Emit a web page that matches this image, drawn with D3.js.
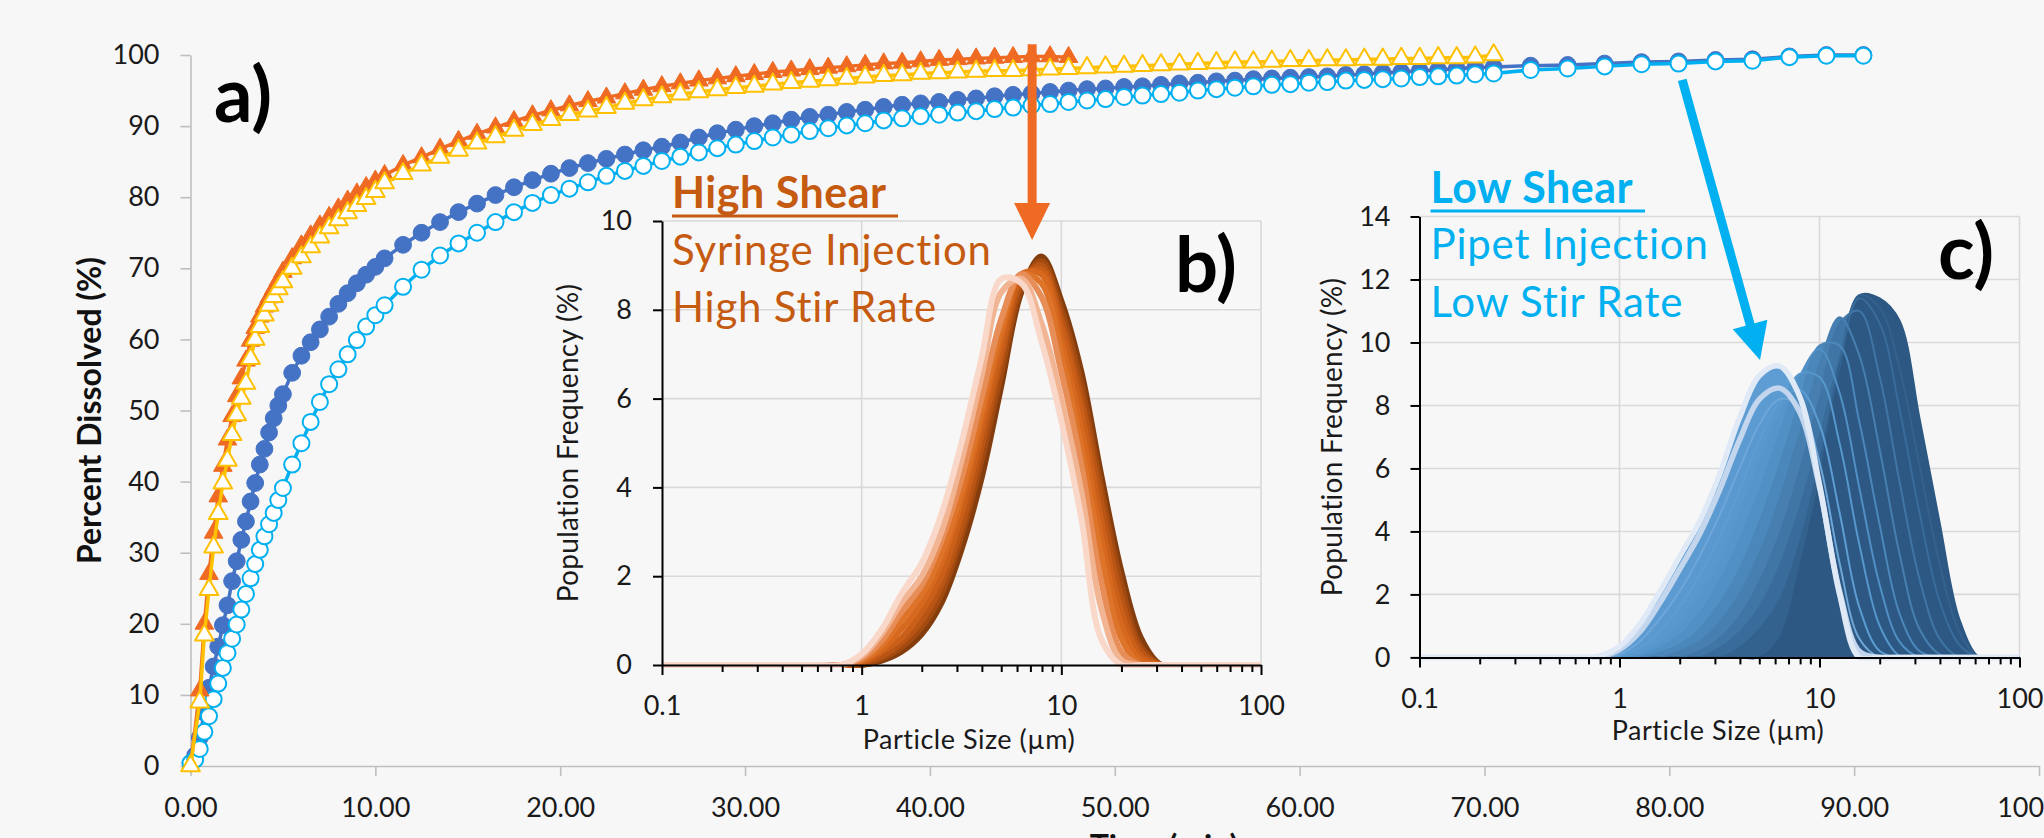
<!DOCTYPE html>
<html>
<head>
<meta charset="utf-8">
<script src="https://cdn.jsdelivr.net/npm/d3@7"></script>
<style>
  html, body { margin: 0; padding: 0; background: #f7f7f7; }
  svg { display: block; font-family: Lato, "Open Sans", sans-serif; }
</style>
</head>
<body>
<svg id="chart" width="2044" height="838"></svg>
<script>
// ---------------- Panel a: dissolution profiles ----------------
const timeTriangles = [0,0.5,0.75,1,1.25,1.5,1.75,2,2.25,2.5,2.75,3,3.25,3.5,3.75,4,4.25,4.5,4.75,5,
  5.5,6,6.5,7,7.5,8,8.5,9,9.5,10,10.5,
  11.5,12.5,13.5,14.5,15.5,16.5,17.5,18.5,19.5,20.5,21.5,22.5,23.5,24.5,25.5,26.5,27.5,28.5,29.5,30.5,
  31.5,32.5,33.5,34.5,35.5,36.5,37.5,38.5,39.5,40.5,41.5,42.5,43.5,44.5,45.5,46.5,47.5,48.5,49.5,50.5,
  51.5,52.5,53.5,54.5,55.5,56.5,57.5,58.5,59.5,60.5,61.5,62.5,63.5,64.5,65.5,66.5,67.5,68.5,69.5,70.5];

const timeCircles = [0,0.25,0.5,0.75,1,1.25,1.5,1.75,2,2.25,2.5,2.75,3,3.25,3.5,3.75,4,4.25,4.5,4.75,5,
  5.5,6,6.5,7,7.5,8,8.5,9,9.5,10,10.5,
  11.5,12.5,13.5,14.5,15.5,16.5,17.5,18.5,19.5,20.5,21.5,22.5,23.5,24.5,25.5,26.5,27.5,28.5,29.5,30.5,
  31.5,32.5,33.5,34.5,35.5,36.5,37.5,38.5,39.5,40.5,41.5,42.5,43.5,44.5,45.5,46.5,47.5,48.5,49.5,50.5,
  51.5,52.5,53.5,54.5,55.5,56.5,57.5,58.5,59.5,60.5,61.5,62.5,63.5,64.5,65.5,66.5,67.5,68.5,69.5,70.5,
  72.5,74.5,76.5,78.5,80.5,82.5,84.5,86.5,88.5,90.5];

// high shear, run 1 (filled triangles)
const highShearRun1 = [0,10.6,20.0,27.0,32.8,37.9,42.2,45.9,49.2,52.0,54.5,57.0,59.8,61.6,63.2,64.6,65.9,67.1,68.3,69.5,
  71.4,73.2,74.6,76.0,77.2,78.4,79.5,80.5,81.4,82.3,83.1,
  84.5,85.6,86.8,87.9,88.9,89.8,90.7,91.5,92.2,92.9,93.5,94.0,94.6,95.1,95.6,96.0,96.4,96.7,97.0,97.3,
  97.6,97.8,98.0,98.2,98.4,98.6,98.8,98.9,99.1,99.3,99.4,99.5,99.6,99.7,99.8,99.8,99.7];

// high shear, run 2 (open triangles)
const highShearRun2 = [0,9.0,18.4,24.8,30.8,35.5,39.8,43.0,46.6,49.4,51.7,53.8,57.3,60.0,61.8,63.4,64.8,66.0,67.1,68.1,
  70.0,71.6,73.0,74.4,75.7,76.8,77.8,78.8,79.8,80.8,82.0,
  83.3,84.5,85.6,86.6,87.6,88.5,89.4,90.2,90.9,91.6,92.1,92.6,93.2,93.7,94.1,94.5,94.8,95.1,95.4,95.6,
  95.9,96.1,96.3,96.5,96.7,96.9,97.1,97.2,97.4,97.5,97.6,97.7,97.8,97.8,97.9,98.0,98.1,98.2,98.3,98.4,
  98.5,98.6,98.7,98.8,98.9,99.0,99.0,99.1,99.2,99.2,99.3,99.3,99.4,99.4,99.5,99.5,99.6,99.6,99.7,100.0];

// low shear, run 1 (filled circles)
const lowShearRun1 = [0.4,1.5,4.0,7.5,11.0,14.0,16.8,19.8,22.6,26.0,28.8,31.8,34.4,37.2,39.8,42.4,44.6,46.9,48.9,50.7,52.3,
  55.3,57.7,59.6,61.4,63.2,65.0,66.5,67.9,69.1,70.2,71.4,
  73.3,75.0,76.5,77.9,79.1,80.3,81.4,82.4,83.3,84.1,84.8,85.4,86.0,86.6,87.1,87.7,88.4,89.0,89.5,90.0,
  90.4,90.9,91.3,91.6,92.0,92.3,92.7,93.0,93.2,93.4,93.7,93.9,94.2,94.4,94.6,94.8,95.0,95.2,95.3,95.5,
  95.6,95.8,96.0,96.1,96.3,96.4,96.6,96.7,96.8,96.9,97.0,97.2,97.3,97.5,97.6,97.8,97.9,98.1,98.2,98.3,
  98.5,98.6,98.8,99.0,99.1,99.3,99.4,99.8,100.0,100.0];

// low shear, run 2 (open circles)
const lowShearRun2 = [0.4,0.9,2.4,4.8,7.0,9.4,11.6,13.8,15.9,17.9,19.9,22.0,24.2,26.4,28.4,30.4,32.3,34.0,35.6,37.4,39.1,
  42.4,45.4,48.4,51.2,53.7,55.8,57.9,59.9,61.8,63.4,64.8,
  67.4,69.8,71.8,73.5,75.0,76.5,77.9,79.2,80.3,81.2,82.1,83.0,83.7,84.4,85.1,85.7,86.3,86.9,87.4,87.9,
  88.4,88.8,89.3,89.7,90.1,90.4,90.8,91.1,91.4,91.6,91.9,92.1,92.4,92.6,92.9,93.1,93.4,93.6,93.8,94.1,
  94.3,94.5,94.7,95.0,95.2,95.4,95.6,95.8,95.9,96.1,96.2,96.4,96.5,96.6,96.7,96.9,97.0,97.1,97.3,97.4,
  97.9,98.1,98.4,98.7,98.8,99.1,99.2,99.7,99.9,99.9];

const timeTicks = [0,10,20,30,40,50,60,70,80,90,100];
const percentTicks = [0,10,20,30,40,50,60,70,80,90,100];

// ---------------- Panels b, c: particle size distributions ----------------
const particleSizes = [0.1,0.126,0.158,0.2,0.251,0.316,0.398,0.501,0.631,0.794,1,1.26,1.58,2,2.51,3.16,3.98,5.01,
  6.31,7.94,10,12.6,15.8,20,25.1,31.6,39.8,50.1,63.1,79.4,100];

// high shear distributions (population frequency, %), first to last
const highPSD1 = [0,0,0,0,0,0,0,0,0, 0,0,0.1,0.3,0.7,1.4,2.6,4.2,6.3,8.4,9.2,8.2,6.6,4.3,2.1,0.6,0, 0,0,0,0,0];
const highPSD2 = [0,0,0,0,0,0,0,0,0, 0,0,0.15,0.4,0.85,1.6,2.9,4.6,6.6,8.5,9.1,8.0,6.3,4.0,1.8,0.4,0, 0,0,0,0,0];
const highPSD3 = [0,0,0,0,0,0,0,0,0, 0,0.05,0.2,0.5,1.0,1.8,3.1,4.9,6.9,8.6,9.0,7.8,6.0,3.7,1.5,0.3,0, 0,0,0,0,0];
const highPSD4 = [0,0,0,0,0,0,0,0,0, 0,0.05,0.3,0.6,1.2,2.0,3.4,5.2,7.1,8.7,8.9,7.6,5.7,3.3,1.2,0.2,0, 0,0,0,0,0];
const highPSD5 = [0,0,0,0,0,0,0,0,0, 0,0.1,0.35,0.8,1.4,2.3,3.7,5.5,7.4,8.8,8.8,7.3,5.3,2.9,0.9,0.1,0, 0,0,0,0,0];
const highPSD6 = [0,0,0,0,0,0,0,0,0, 0,0.1,0.45,1.0,1.6,2.5,3.9,5.7,7.6,8.8,8.6,7.0,4.9,2.5,0.6,0,0, 0,0,0,0,0];
const highPSD7 = [0,0,0,0,0,0,0,0,0, 0,0.15,0.55,1.2,1.8,2.8,4.2,6.0,7.8,8.8,8.3,6.6,4.5,1.9,0.3,0,0, 0,0,0,0,0];
const highPSD8 = [0,0,0,0,0,0,0,0,0, 0,0.2,0.7,1.4,2.0,3.0,4.6,6.5,8.4,8.7,7.7,6.0,3.9,1.3,0.1,0,0, 0,0,0,0,0];
const highPSD9 = [0,0,0,0,0,0,0,0,0, 0,0.25,0.8,1.6,2.3,3.4,5.0,6.9,8.7,8.6,7.3,5.5,3.3,0.6,0,0,0, 0,0,0,0,0];

// low shear distributions (population frequency, %), first to last
const lowPSD1  = [0,0,0,0,0,0,0,0,0, 0,0,0,0,0,0,0,0,0,0.6,2.8,5.6,9.3,11.5,11.4,10.7,7.6,4.3,1.2,0, 0,0];
const lowPSD2  = [0,0,0,0,0,0,0,0,0, 0,0,0,0,0,0,0,0.3,0.9,1.8,3.6,6.2,9.2,11.5,11.1,9.2,6.1,3.0,0.8,0, 0,0];
const lowPSD3  = [0,0,0,0,0,0,0,0,0, 0,0,0,0,0,0,0.3,0.8,1.6,2.9,4.7,7.0,9.5,11.4,10.6,7.9,4.6,1.8,0.4,0, 0,0];
const lowPSD4  = [0,0,0,0,0,0,0,0,0, 0,0,0,0,0,0.2,0.6,1.3,2.4,3.9,5.9,8.2,10.6,11.0,8.9,5.6,2.5,0.6,0,0, 0,0];
const lowPSD5  = [0,0,0,0,0,0,0,0,0, 0,0,0,0,0.2,0.5,1.1,2.0,3.3,5.0,7.1,9.3,10.8,9.6,6.6,3.3,0.9,0.1,0,0, 0,0];
const lowPSD6  = [0,0,0,0,0,0,0,0,0, 0,0,0,0.15,0.4,0.9,1.7,2.8,4.3,6.1,8.1,9.9,9.9,7.5,4.2,1.4,0.2,0,0,0, 0,0];
const lowPSD7  = [0,0,0,0,0,0,0,0,0, 0,0,0.05,0.3,0.7,1.4,2.4,3.7,5.3,7.1,8.9,9.8,8.4,5.4,2.3,0.5,0,0,0,0, 0,0];
const lowPSD8  = [0,0,0,0,0,0,0,0,0, 0,0,0.15,0.5,1.1,2.0,3.1,4.6,6.3,7.8,9.0,8.9,6.8,3.6,1.0,0.05,0,0,0,0, 0,0];
const lowPSD9  = [0,0,0,0,0,0,0,0,0, 0,0.05,0.3,0.8,1.6,2.6,3.8,5.3,6.9,8.1,8.5,7.4,4.6,1.6,0.2,0,0,0,0,0, 0,0];
const lowPSD10 = [0,0,0,0,0,0,0,0,0, 0,0.1,0.5,1.2,2.1,3.2,4.5,6.0,7.4,8.2,8.0,6.2,3.0,0.6,0,0,0,0,0,0, 0,0];
const lowPSD11 = [0,0,0,0,0,0,0,0,0, 0.02,0.25,0.8,1.7,2.8,3.9,5.3,6.9,8.2,8.55,7.8,5.4,2.1,0.2,0,0,0,0,0,0, 0,0];
const lowPSD12 = [0,0,0,0,0,0,0,0,0, 0.05,0.35,1.05,2.05,3.2,4.3,5.8,7.6,8.95,9.25,8.3,5.5,2.0,0,0,0,0,0,0,0, 0,0];

const sizeTicks = [0.1, 1, 10, 100];
const sizeMinorTicks = [0.2,0.3,0.4,0.5,0.6,0.7,0.8,0.9,2,3,4,5,6,7,8,9,20,30,40,50,60,70,80,90];
const freqTicksB = [0,2,4,6,8,10];
const freqTicksC = [0,2,4,6,8,10,12,14];

// ---------------- drawing ----------------
const svg = d3.select('#chart');
const FONT = 'Lato, "Open Sans", sans-serif';

// main scales
const xMain = d3.scaleLinear().domain([0, 100]).range([190.5, 2039]);
const yMain = d3.scaleLinear().domain([0, 100]).range([766, 55]);

const gA = svg.append('g');

// axes of panel a
const axA_y = gA.append('g')
  .attr('transform', `translate(${xMain(0)},0)`)
  .call(d3.axisLeft(yMain).tickValues(percentTicks).tickSize(10).tickSizeOuter(0).tickPadding(21)
    .tickFormat(d3.format('d')));
const axA_x = gA.append('g')
  .attr('transform', `translate(0,${yMain(0)})`)
  .call(d3.axisBottom(xMain).tickValues(timeTicks).tickSize(10).tickSizeOuter(0).tickPadding(22)
    .tickFormat(d3.format('.2f')));
[axA_y, axA_x].forEach(ax => {
  ax.selectAll('path.domain, line').attr('stroke', '#bfbfbf').attr('stroke-width', 1.6);
  ax.selectAll('text').attr('font-size', 27).attr('font-family', FONT).attr('fill', '#1a1a1a');
});

gA.append('text')
  .attr('transform', `translate(101,${(yMain(0) + yMain(100)) / 2}) rotate(-90)`)
  .attr('text-anchor', 'middle')
  .attr('font-size', 32).attr('font-weight', 700).attr('fill', '#111')
  .text('Percent Dissolved (%)');

gA.append('text')
  .attr('x', 1164).attr('y', 858)
  .attr('text-anchor', 'middle')
  .attr('font-size', 32).attr('font-weight', 700).attr('fill', '#111')
  .text('Time (min)');

gA.append('text')
  .attr('x', 214).attr('y', 122)
  .attr('font-size', 76).attr('font-weight', 700).attr('fill', '#000')
  .text('a)');

const lineA = d3.line().x(d => xMain(d[0])).y(d => yMain(d[1]));

function drawSeries(times, values, style) {
  const pts = values.map((v, i) => [times[i], v]);
  const g = gA.append('g');
  g.append('path').datum(pts)
    .attr('d', lineA)
    .attr('fill', 'none')
    .attr('stroke', style.line)
    .attr('stroke-width', 3.5)
    .attr('stroke-linejoin', 'round');
  if (style.shape === 'circle') {
    g.selectAll('circle').data(pts).join('circle')
      .attr('cx', d => xMain(d[0])).attr('cy', d => yMain(d[1]))
      .attr('r', style.r)
      .attr('fill', style.fill)
      .attr('stroke', style.stroke)
      .attr('stroke-width', style.sw);
  } else {
    const sym = d3.symbol(d3.symbolTriangle, style.size);
    g.selectAll('path.m').data(pts).join('path')
      .attr('class', 'm')
      .attr('d', sym)
      .attr('transform', d => `translate(${xMain(d[0])},${yMain(d[1])})`)
      .attr('fill', style.fill)
      .attr('stroke', style.stroke)
      .attr('stroke-width', style.sw)
      .attr('stroke-linejoin', 'round');
  }
}

drawSeries(timeCircles, lowShearRun1, { shape: 'circle', line: '#4472C4', fill: '#4472C4', stroke: '#4472C4', sw: 1, r: 8.4 });
drawSeries(timeCircles, lowShearRun2, { shape: 'circle', line: '#00B0F0', fill: '#ffffff', stroke: '#00B0F0', sw: 2, r: 8 });
drawSeries(timeTriangles, highShearRun1, { shape: 'tri', line: '#EF6A22', fill: '#EF6A22', stroke: '#EF6A22', sw: 1, size: 150 });
drawSeries(timeTriangles, highShearRun2, { shape: 'tri', line: '#FFC000', fill: '#ffffff', stroke: '#FFC000', sw: 2, size: 150 });

// ---------------- inset panels ----------------
function drawInset(cfg) {
  const g = svg.append('g');
  const x = cfg.x, y = cfg.y;
  const x0 = x(0.1), x1 = x(100), yBot = y(0), yTop = y(cfg.yMax);

  // gridlines
  g.selectAll('line.gh').data(cfg.yTicks.filter(v => v > 0)).join('line')
    .attr('x1', x0).attr('x2', x1).attr('y1', d => y(d)).attr('y2', d => y(d))
    .attr('stroke', '#d9d9d9').attr('stroke-width', 1.6);
  g.selectAll('line.gv').data(sizeTicks.filter(v => v > 0.1)).join('line')
    .attr('x1', d => x(d)).attr('x2', d => x(d)).attr('y1', yBot).attr('y2', yTop)
    .attr('stroke', '#d9d9d9').attr('stroke-width', 1.6);

  // annotation text
  const tg = g.append('g').attr('fill', cfg.textColor);
  tg.append('text').attr('x', cfg.tx).attr('y', cfg.ty[0])
    .attr('font-size', 43).attr('font-weight', 700).attr('letter-spacing', 0.5).text(cfg.lines[0]);
  tg.append('line').attr('x1', cfg.tx).attr('x2', cfg.ulEnd)
    .attr('y1', cfg.ty[0] + 8).attr('y2', cfg.ty[0] + 8)
    .attr('stroke', cfg.textColor).attr('stroke-width', 3);
  tg.append('text').attr('x', cfg.tx).attr('y', cfg.ty[1])
    .attr('font-size', 42).attr('letter-spacing', 0.8).text(cfg.lines[1]);
  tg.append('text').attr('x', cfg.tx).attr('y', cfg.ty[2])
    .attr('font-size', 42).attr('letter-spacing', 0.8).text(cfg.lines[2]);

  g.append('text').attr('x', cfg.labelPos[0]).attr('y', cfg.labelPos[1])
    .attr('font-size', 76).attr('font-weight', 700).attr('fill', '#000').text(cfg.label);

  // curves
  const clipId = 'clip-' + cfg.label.replace(')', '');
  svg.append('clipPath').attr('id', clipId).append('rect')
    .attr('x', x0).attr('y', yTop - 10).attr('width', x1 - x0).attr('height', yBot - yTop + 13);
  const cg = g.append('g').attr('clip-path', `url(#${clipId})`);
  const curve = d3.curveCatmullRom.alpha(0.5);
  const n = cfg.curves.length;

  if (cfg.fillColors) {
    const area = d3.area().x((d, i) => x(particleSizes[i])).y0(yBot).y1(d => y(d)).curve(curve);
    for (let k = n - 1; k >= 0; k--) {
      cg.append('path').datum(cfg.curves[k]).attr('d', area)
        .attr('fill', cfg.fillColors[k]).attr('stroke', 'none');
    }
  }
  const line = d3.line().x((d, i) => x(particleSizes[i])).y(d => y(d)).curve(curve);
  cfg.curves.forEach((c, k) => {
    cg.append('path').datum(c).attr('d', line)
      .attr('fill', 'none')
      .attr('stroke', cfg.colors[k])
      .attr('stroke-width', cfg.strokeW(k))
      .attr('stroke-linejoin', 'round');
  });

  // axes
  const ay = g.append('g').attr('transform', `translate(${x0},0)`)
    .call(d3.axisLeft(y).tickValues(cfg.yTicks).tickSize(9).tickSizeOuter(0).tickPadding(cfg.yPad));
  const ax = g.append('g').attr('transform', `translate(0,${yBot})`)
    .call(d3.axisBottom(x).tickValues(sizeTicks).tickSize(10).tickSizeOuter(0).tickPadding(cfg.xPad)
      .tickFormat(d => String(d)));
  const axm = g.append('g').attr('transform', `translate(0,${yBot})`)
    .call(d3.axisBottom(x).tickValues(sizeMinorTicks).tickSize(7).tickSizeOuter(0).tickFormat(''));
  axm.select('path.domain').remove();
  [ay, ax, axm].forEach(a => {
    a.selectAll('path.domain, line').attr('stroke', '#000').attr('stroke-width', 2);
    a.selectAll('text').attr('font-size', 27).attr('font-family', FONT).attr('fill', '#1a1a1a');
  });

  g.append('text')
    .attr('transform', `translate(${cfg.yTitleX},${(yBot + yTop) / 2}) rotate(-90)`)
    .attr('text-anchor', 'middle').attr('font-size', 28).attr('letter-spacing', 0.3).attr('fill', '#1a1a1a')
    .text('Population Frequency (%)');
  g.append('text')
    .attr('x', cfg.xTitle[0]).attr('y', cfg.xTitle[1])
    .attr('text-anchor', 'middle').attr('font-size', 27).attr('letter-spacing', 0.5).attr('fill', '#1a1a1a')
    .text('Particle Size (\u00B5m)');
}

const xB = d3.scaleLog().domain([0.1, 100]).range([662, 1261]);
const yB = d3.scaleLinear().domain([0, 10]).range([665, 221]);
const xC = d3.scaleLog().domain([0.1, 100]).range([1419.5, 2019.5]);
const yC = d3.scaleLinear().domain([0, 14]).range([657.4, 216.5]);

drawInset({
  x: xB, y: yB, yMax: 10, yTicks: freqTicksB, yPad: 21, xPad: 21,
  curves: [highPSD1, highPSD2, highPSD3, highPSD4, highPSD5, highPSD6, highPSD7, highPSD8, highPSD9],
  colors: ['#843d0e', '#a34a10', '#b95514', '#ca5f19', '#d7691f', '#de7429', '#e78d58', '#f2b594', '#f9d8ca'],
  strokeW: () => 6,
  fillColors: null,
  textColor: '#C55A11', tx: 672, ty: [208, 265, 322], ulEnd: 898,
  lines: ['High Shear', 'Syringe Injection', 'High Stir Rate'],
  label: 'b)', labelPos: [1175, 292],
  yTitleX: 578, xTitle: [969, 749]
});

drawInset({
  x: xC, y: yC, yMax: 14, yTicks: freqTicksC, yPad: 20, xPad: 21,
  curves: [lowPSD1, lowPSD2, lowPSD3, lowPSD4, lowPSD5, lowPSD6, lowPSD7, lowPSD8, lowPSD9, lowPSD10, lowPSD11, lowPSD12],
  colors: ['#2d5883', '#33628f', '#3a6c9b', '#4076a6', '#467fb0', '#4b87ba', '#5090c4', '#5697cc', '#5c9dd3', '#6ea6d8', '#c3d6ee', '#e0eaf6'],
  fillColors: ['#2d5883', '#33628f', '#3a6c9b', '#4076a6', '#467fb0', '#4b87ba', '#5090c4', '#5595cc', '#5898cf', '#5a99d0', '#5c9bd1', '#5e9dd3'],
  strokeW: k => (k >= 10 ? 5.5 : 2),
  textColor: '#00B0F0', tx: 1430.5, ty: [203, 259, 317], ulEnd: 1645,
  lines: ['Low Shear', 'Pipet Injection', 'Low Stir Rate'],
  label: 'c)', labelPos: [1938, 279],
  yTitleX: 1342, xTitle: [1718, 740]
});

// ---------------- arrows linking panel a to the insets ----------------
function arrow(start, tip, color) {
  const dx = tip[0] - start[0], dy = tip[1] - start[1];
  const len = Math.hypot(dx, dy), ux = dx / len, uy = dy / len;
  const headL = 37, headW = 18;
  const bx = tip[0] - ux * headL, by = tip[1] - uy * headL;
  svg.append('line')
    .attr('x1', start[0]).attr('y1', start[1]).attr('x2', bx + ux * 2).attr('y2', by + uy * 2)
    .attr('stroke', color).attr('stroke-width', 9);
  svg.append('path')
    .attr('d', `M${tip[0]},${tip[1]}L${bx - uy * headW},${by + ux * headW}L${bx + uy * headW},${by - ux * headW}Z`)
    .attr('fill', color);
}
const tipB = [xB(7.14), yB(9.57)];
arrow([tipB[0], yMain(101.5)], tipB, '#EF6A22');
arrow([xMain(80.7), yMain(96.5)], [xC(5.04), yC(9.44)], '#00B0F0');
</script>
</body>
</html>
